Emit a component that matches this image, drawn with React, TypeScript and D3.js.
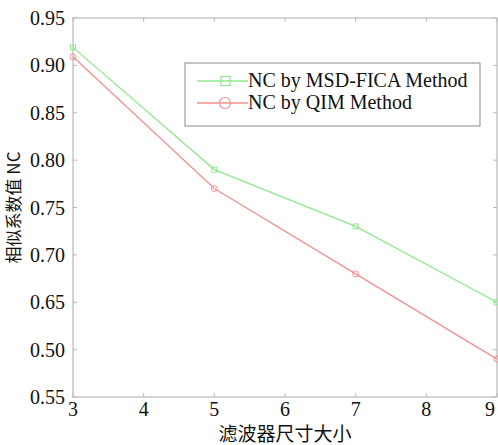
import React, { useEffect, useRef } from "react";
import * as d3 from "d3";

// filter size (x) and NC values
const filterSizes = [3, 5, 7, 9];
const ncMsdFica = [0.919, 0.79, 0.73, 0.65];
const ncQim = [0.909, 0.77, 0.68, 0.59];
const xTicks = [3, 4, 5, 6, 7, 8, 9];
const yTickValues = [0.95, 0.9, 0.85, 0.8, 0.75, 0.7, 0.65, 0.6, 0.55];
// labels as printed in the original figure
const yTickLabels = ["0.95", "0.90", "0.85", "0.80", "0.75", "0.70", "0.65", "0.50", "0.55"];
const seriesNames = ["NC by MSD-FICA Method", "NC by QIM Method"];

const W = 498;
const H = 445;

export default function App() {
  const ref = useRef<SVGSVGElement>(null);

  useEffect(() => {
    const svg = d3.select(ref.current);
    svg.selectAll("*").remove();

    const m = { top: 18, right: 1, bottom: 48, left: 73 };
    const x = d3.scaleLinear().domain([3, 9]).range([m.left, W - m.right]);
    const y = d3.scaleLinear().domain([0.55, 0.95]).range([H - m.bottom, m.top]);
    const font = "Liberation Serif, DejaVu Serif, serif";
    const cjk = "Noto Sans CJK SC, sans-serif";
    const axisCol = "#b8b8b8";

    svg.append("rect").attr("width", W).attr("height", H).attr("fill", "#fff");

    // box
    svg.append("rect")
      .attr("x", x(3)).attr("y", y(0.95))
      .attr("width", x(9) - x(3)).attr("height", y(0.55) - y(0.95))
      .attr("fill", "none").attr("stroke", axisCol).attr("stroke-width", 1.2);

    // x ticks
    const gx = svg.append("g");
    xTicks.forEach((v) => {
      gx.append("line").attr("x1", x(v)).attr("x2", x(v))
        .attr("y1", y(0.55)).attr("y2", y(0.55) - 4).attr("stroke", axisCol);
      gx.append("line").attr("x1", x(v)).attr("x2", x(v))
        .attr("y1", y(0.95)).attr("y2", y(0.95) + 4).attr("stroke", axisCol);
      gx.append("text")
        .attr("x", Math.min(x(v), W - 8)).attr("y", y(0.55) + 19)
        .attr("text-anchor", "middle").style("font-family", font).style("font-size", "20px")
        .attr("fill", "#111").text(String(v));
    });

    // y ticks
    const gy = svg.append("g");
    yTickValues.forEach((v, i) => {
      gy.append("line").attr("x1", x(3)).attr("x2", x(3) + 4)
        .attr("y1", y(v)).attr("y2", y(v)).attr("stroke", axisCol);
      gy.append("line").attr("x1", x(9)).attr("x2", x(9) - 4)
        .attr("y1", y(v)).attr("y2", y(v)).attr("stroke", axisCol);
      gy.append("text")
        .attr("x", x(3) - 8).attr("y", y(v)).attr("dy", "0.35em")
        .attr("text-anchor", "end").style("font-family", font).style("font-size", "20px")
        .attr("fill", "#111").text(yTickLabels[i]);
    });

    const line = d3.line<number>().x((_, i) => x(filterSizes[i])).y((d) => y(d));
    const green = "#8ee88e";
    const red = "#f29090";

    svg.append("path").datum(ncMsdFica).attr("d", line)
      .attr("fill", "none").attr("stroke", green).attr("stroke-width", 1.3);
    svg.append("path").datum(ncQim).attr("d", line)
      .attr("fill", "none").attr("stroke", red).attr("stroke-width", 1.3);

    svg.append("g").selectAll("rect").data(ncMsdFica).join("rect")
      .attr("x", (_, i) => x(filterSizes[i]) - 2.5).attr("y", (d) => y(d) - 2.5)
      .attr("width", 5).attr("height", 5)
      .attr("fill", "none").attr("stroke", green).attr("stroke-width", 1);
    svg.append("g").selectAll("circle").data(ncQim).join("circle")
      .attr("cx", (_, i) => x(filterSizes[i])).attr("cy", (d) => y(d)).attr("r", 3)
      .attr("fill", "none").attr("stroke", red).attr("stroke-width", 1);

    // legend
    const lg = svg.append("g").attr("transform", "translate(185,63)");
    lg.append("rect").attr("width", 295).attr("height", 63)
      .attr("fill", "#fff").attr("stroke", "#8a8a8a").attr("stroke-width", 1);
    [green, red].forEach((c, i) => {
      const cy = 18 + i * 22;
      lg.append("line").attr("x1", 12).attr("x2", 63).attr("y1", cy).attr("y2", cy)
        .attr("stroke", c).attr("stroke-width", 1.5);
      if (i === 0) {
        lg.append("rect").attr("x", 36).attr("y", cy - 4.5).attr("width", 9).attr("height", 9)
          .attr("fill", "none").attr("stroke", c).attr("stroke-width", 1.2);
      } else {
        lg.append("circle").attr("cx", 40).attr("cy", cy).attr("r", 5.5)
          .attr("fill", "none").attr("stroke", c).attr("stroke-width", 1.2);
      }
      lg.append("text").attr("x", 63).attr("y", cy).attr("dy", "0.32em")
        .style("font-family", font).style("font-size", "20px").attr("fill", "#111")
        .text(seriesNames[i]);
    });

    // axis titles
    svg.append("text")
      .attr("transform", `translate(20,${(y(0.95) + y(0.55)) / 2}) rotate(-90)`)
      .attr("text-anchor", "middle").style("font-family", cjk).style("font-size", "17px")
      .attr("fill", "#111").text("相似系数值 NC");
    svg.append("text")
      .attr("x", (x(3) + x(9)) / 2).attr("y", 441)
      .attr("text-anchor", "middle").style("font-family", cjk).style("font-size", "19px")
      .attr("fill", "#111").text("滤波器尺寸大小");
  }, []);

  return (
    <svg ref={ref} width={W} height={H}
      style={{ position: "absolute", left: 0, top: 0, display: "block" }} />
  );
}
